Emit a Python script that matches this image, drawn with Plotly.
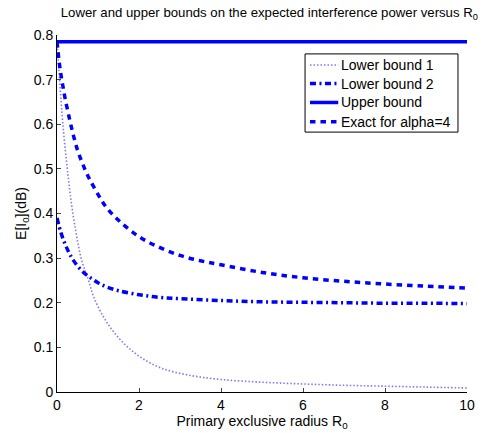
import plotly.graph_objects as go

# Data
r_lb1 = [0, 0.04, 0.08, 0.14, 0.24, 0.32, 0.44, 0.6, 0.77, 0.89, 1.13, 1.38, 1.71, 2.07, 2.56, 3.2, 4, 5, 6, 7, 8, 9, 10]
v_lb1 = [0.785, 0.73, 0.677, 0.603, 0.51, 0.445, 0.37, 0.296, 0.25, 0.214, 0.169, 0.135, 0.102, 0.076, 0.053, 0.038, 0.028, 0.022, 0.018, 0.015, 0.013, 0.011, 0.009]

r_lb2 = [0, 0.1, 0.2, 0.3, 0.4, 0.6, 0.8, 1.0, 1.2, 1.5, 2, 2.5, 3, 4, 5, 6, 7, 8, 9, 10]
v_lb2 = [0.39, 0.356, 0.331, 0.311, 0.295, 0.272, 0.257, 0.245, 0.236, 0.227, 0.218, 0.212, 0.209, 0.205, 0.202, 0.201, 0.2, 0.199, 0.199, 0.198]

r_ub = [0, 10]
v_ub = [0.785, 0.785]

r_ex = [0, 0.05, 0.1, 0.15, 0.2, 0.3, 0.4, 0.5, 0.6, 0.7, 0.8, 1.0, 1.2, 1.5, 2, 2.5, 3, 3.5, 4, 5, 6, 7, 8, 9, 10]
v_ex = [0.785, 0.742, 0.709, 0.682, 0.657, 0.614, 0.575, 0.542, 0.517, 0.495, 0.476, 0.443, 0.414, 0.385, 0.348, 0.324, 0.306, 0.294, 0.285, 0.268, 0.256, 0.248, 0.242, 0.237, 0.233]

x_ticks = [0, 2, 4, 6, 8, 10]
y_ticks = [0, 0.1, 0.2, 0.3, 0.4, 0.5, 0.6, 0.7, 0.8]
y_tick_labels = ["0", "0.1", "0.2", "0.3", "0.4", "0.5", "0.6", "0.7", "0.8"]

series_names = ["Lower bound 1", "Lower bound 2", "Upper bound", "Exact for alpha=4"]

FONT = "Liberation Sans, Arial, sans-serif"

styles = [
    dict(color="#7a7aff", width=1.6, dash="1.5px,2px"),
    dict(color="#0000ff", width=3.5, dash="6px,3.5px,2px,3.5px"),
    dict(color="#0000ff", width=3.5, dash="solid"),
    dict(color="#0000ff", width=3.5, dash="5.5px,5px"),
]
data = [(r_lb1, v_lb1), (r_lb2, v_lb2), (r_ub, v_ub), (r_ex, v_ex)]

fig = go.Figure()
for (xs, ys), name, st in zip(data, series_names, styles):
    fig.add_trace(go.Scatter(x=xs, y=ys, mode="lines", name=name, showlegend=False,
                             line=dict(st, shape="spline")))

# Legend box drawn in MATLAB style (compact spacing)
leg_x0, leg_x1, leg_y0, leg_y1 = 0.605, 0.978, 0.728, 0.947
entry_y = [0.916, 0.864, 0.811, 0.757]
fig.add_shape(type="rect", xref="paper", yref="paper", x0=leg_x0, x1=leg_x1, y0=leg_y0, y1=leg_y1,
              line=dict(color="black", width=1), fillcolor="white", layer="above")
for name, st, yy in zip(series_names, styles, entry_y):
    fig.add_shape(type="line", xref="paper", yref="paper", x0=0.617, x1=0.686, y0=yy, y1=yy,
                  line=dict(color=st["color"], width=st["width"], dash=st["dash"]), layer="above")
    fig.add_annotation(xref="paper", yref="paper", x=0.689, y=yy, xanchor="left", yanchor="middle",
                       text=name, showarrow=False, font=dict(family=FONT, size=14, color="black"))

fig.update_layout(
    width=487, height=433,
    margin=dict(l=57, r=20, t=35, b=41, autoexpand=False),
    paper_bgcolor="white", plot_bgcolor="white",
    font=dict(family=FONT, size=14, color="black"),
    title=dict(text="Lower and upper bounds on the expected interference power versus R<sub>0</sub>",
               x=0.553, xanchor="center", y=0.972, yanchor="middle", automargin=False,
               font=dict(family=FONT, size=13.2, color="black")),
    showlegend=False,
)
fig.update_xaxes(range=[0, 10], tickvals=x_ticks, ticks="inside", ticklen=4, automargin=False,
                 showline=True, linecolor="black", linewidth=1, showgrid=False, zeroline=False,
                 tickfont=dict(size=14),
                 title=dict(text="Primary exclusive radius R<sub>0</sub>", standoff=2, font=dict(size=14)))
fig.update_yaxes(range=[0, 0.8], tickvals=y_ticks, ticktext=y_tick_labels, ticks="inside", ticklen=4,
                 automargin=False,
                 showline=True, linecolor="black", linewidth=1, showgrid=False, zeroline=False,
                 tickfont=dict(size=14),
                 title=dict(text="E[I<sub>0</sub>](dB)", standoff=3, font=dict(size=14)))

fig.write_html("out.html", config={"displayModeBar": False},
               post_script="document.body.style.margin='0px';")
